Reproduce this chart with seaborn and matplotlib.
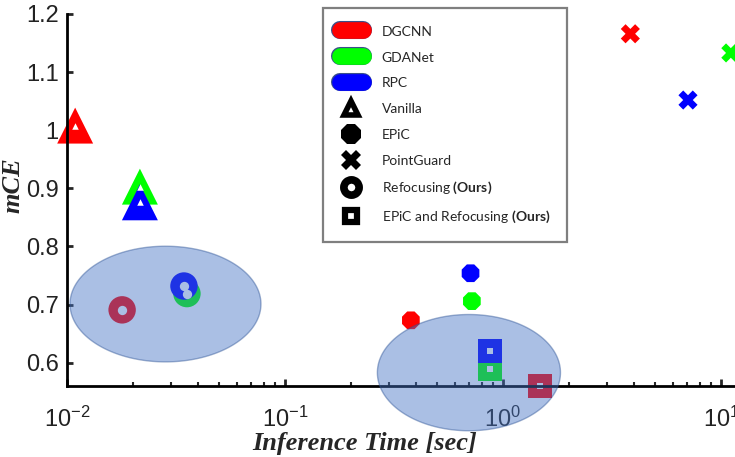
import numpy as np
import pandas as pd
import seaborn as sns
import matplotlib.pyplot as plt
from matplotlib.lines import Line2D
import matplotlib.patheffects as pe
from matplotlib.ticker import FixedLocator, LogLocator, NullFormatter

# Modelos y colores
models = ["DGCNN", "GDANet", "RPC"]
model_colors = ["#ff0000", "#00ff00", "#0000ff"]

# Tiempo de inferencia [sec] y mCE por método (mismo orden que models)
vanilla_time = [0.0109, 0.0216, 0.0216]
vanilla_mce = [1.008, 0.903, 0.876]
epic_time = [0.378, 0.72, 0.71]
epic_mce = [0.673, 0.706, 0.754]
pointguard_time = [3.84, 11.1, 7.06]
pointguard_mce = [1.166, 1.133, 1.052]
refocus_time = [0.0179, 0.0355, 0.0344]
refocus_mce = [0.691, 0.719, 0.732]
epic_refocus_time = [1.48, 0.873, 0.873]
epic_refocus_mce = [0.560, 0.589, 0.620]

# Regiones resaltadas (elipses): centro, ancho en décadas, alto en mCE
region_time = [0.0283, 0.698]
region_mce = [0.701, 0.583]
region_width_dec = [0.876, 0.84]
region_height = [0.199, 0.2]

yticks = [0.6, 0.7, 0.8, 0.9, 1.0, 1.1, 1.2]
ytick_labels = ["0.6", "0.7", "0.8", "0.9", "1", "1.1", "1.2"]
xticks = [0.01, 0.1, 1, 10]
xtick_labels = [r"$10^{-2}$", r"$10^{-1}$", r"$10^{0}$", r"$10^{1}$"]

methods = ["Vanilla", "EPiC", "PointGuard", "Refocusing", "EPiC and Refocusing"]
method_times = [vanilla_time, epic_time, pointguard_time, refocus_time, epic_refocus_time]
method_mces = [vanilla_mce, epic_mce, pointguard_mce, refocus_mce, epic_refocus_mce]

frames = []
for name, t, m in zip(methods, method_times, method_mces):
    frames.append(pd.DataFrame({"model": models, "method": name, "time": t, "mce": m}))
df = pd.concat(frames, ignore_index=True)

sns.set_style("ticks")
plt.rcParams["font.family"] = ["Liberation Sans", "DejaVu Sans"]
plt.rcParams["mathtext.default"] = "regular"
plt.rcParams["mathtext.fontset"] = "custom"
plt.rcParams["mathtext.rm"] = "Lato"
plt.rcParams["mathtext.bf"] = "Lato:bold"

fig = plt.figure(figsize=(7.35, 4.57), dpi=100)
ax = fig.add_axes([67 / 735, 71 / 457, 668 / 735, 372 / 457])

# marcador, tamaño, tamaño del hueco blanco
styles = {
    "Vanilla": ("^", 670, 22),
    "EPiC": ("8", 190, 0),
    "PointGuard": ("X", 190, 0),
    "Refocusing": ("o", 390, 45),
    "EPiC and Refocusing": ("s", 290, 25),
}
palette = dict(zip(models, model_colors))

for name in methods:
    marker, size, hole = styles[name]
    sub = df[df["method"] == name]
    sns.scatterplot(data=sub, x="time", y="mce", hue="model", palette=palette,
                    marker=marker, s=size, linewidth=0, legend=False, ax=ax,
                    clip_on=False, zorder=2)
    if hole:
        sns.scatterplot(data=sub, x="time", y="mce", color="white",
                        marker=marker, s=hole, linewidth=0, legend=False, ax=ax,
                        clip_on=False, zorder=2)

# Elipses sobre los puntos
theta = np.linspace(0, 2 * np.pi, 200)
for ct, cm, wd, h in zip(region_time, region_mce, region_width_dec, region_height):
    xs = 10 ** (np.log10(ct) + wd / 2 * np.cos(theta))
    ys = cm + h / 2 * np.sin(theta)
    ax.fill(xs, ys, facecolor="#4472c4", edgecolor="#2f5597", alpha=0.45,
            lw=1, zorder=3, clip_on=False)

ax.set_xscale("log")
ax.set_xlim(0.01, 11.6)
ax.set_ylim(0.56, 1.2)

ax.xaxis.set_major_locator(FixedLocator(xticks))
ax.set_xticklabels(xtick_labels)
ax.xaxis.set_minor_locator(LogLocator(base=10, subs=np.arange(2, 10)))
ax.xaxis.set_minor_formatter(NullFormatter())
ax.set_yticks(yticks)
ax.set_yticklabels(ytick_labels)

sns.despine(ax=ax)
for s in ["left", "bottom"]:
    ax.spines[s].set_linewidth(2)
    ax.spines[s].set_color("black")
ax.tick_params(axis="y", direction="in", length=4.5, width=2, pad=6,
               labelsize=17, labelcolor="#222222")
ax.tick_params(axis="x", which="major", direction="in", length=5, width=2,
               pad=15, labelsize=17, labelcolor="#222222")
ax.tick_params(axis="x", which="minor", direction="in", length=3, width=1.5)

ax.set_xlabel("Inference Time [sec]", fontfamily="Liberation Serif",
              fontweight="bold", fontstyle="italic", fontsize=19)
ax.set_ylabel("mCE", fontfamily="Liberation Serif", fontweight="bold",
              fontstyle="italic", fontsize=19)
ax.xaxis.set_label_coords(0.446, -0.124)
ax.yaxis.set_label_coords(-0.064, 0.54)

# Leyenda
handles = []
for c in model_colors:
    handles.append(Line2D([0, 1], [0, 0], color=c, lw=12, solid_capstyle="round",
                          path_effects=[pe.Stroke(linewidth=13, foreground="#3a4f8a"),
                                        pe.Normal()]))
handles.append(Line2D([], [], marker="^", ms=10, mfc="white", mec="black", mew=4, ls=""))
handles.append(Line2D([], [], marker="8", ms=16, color="black", mew=0, ls=""))
handles.append(Line2D([], [], marker="X", ms=15, color="black", mew=0, ls=""))
handles.append(Line2D([], [], marker="o", ms=11, mfc="white", mec="black", mew=5.5, ls=""))
handles.append(Line2D([], [], marker="s", ms=9, mfc="white", mec="black", mew=4.5, ls=""))
labels = models + ["Vanilla", "EPiC", "PointGuard",
                   r"Refocusing $\mathbf{(Ours)}$",
                   r"EPiC and Refocusing $\mathbf{(Ours)}$"]
leg = ax.legend(handles, labels, loc="upper left", bbox_to_anchor=(0.383, 1.016),
                prop={"family": "Lato", "size": 10}, frameon=True,
                fancybox=False, framealpha=1, edgecolor="#7f7f7f",
                handlelength=1.7, handletextpad=1.35, borderpad=1.2,
                labelspacing=0.93, handleheight=1.0, borderaxespad=0)
leg.get_frame().set_linewidth(1.6)

plt.savefig("out.png", dpi=100)
